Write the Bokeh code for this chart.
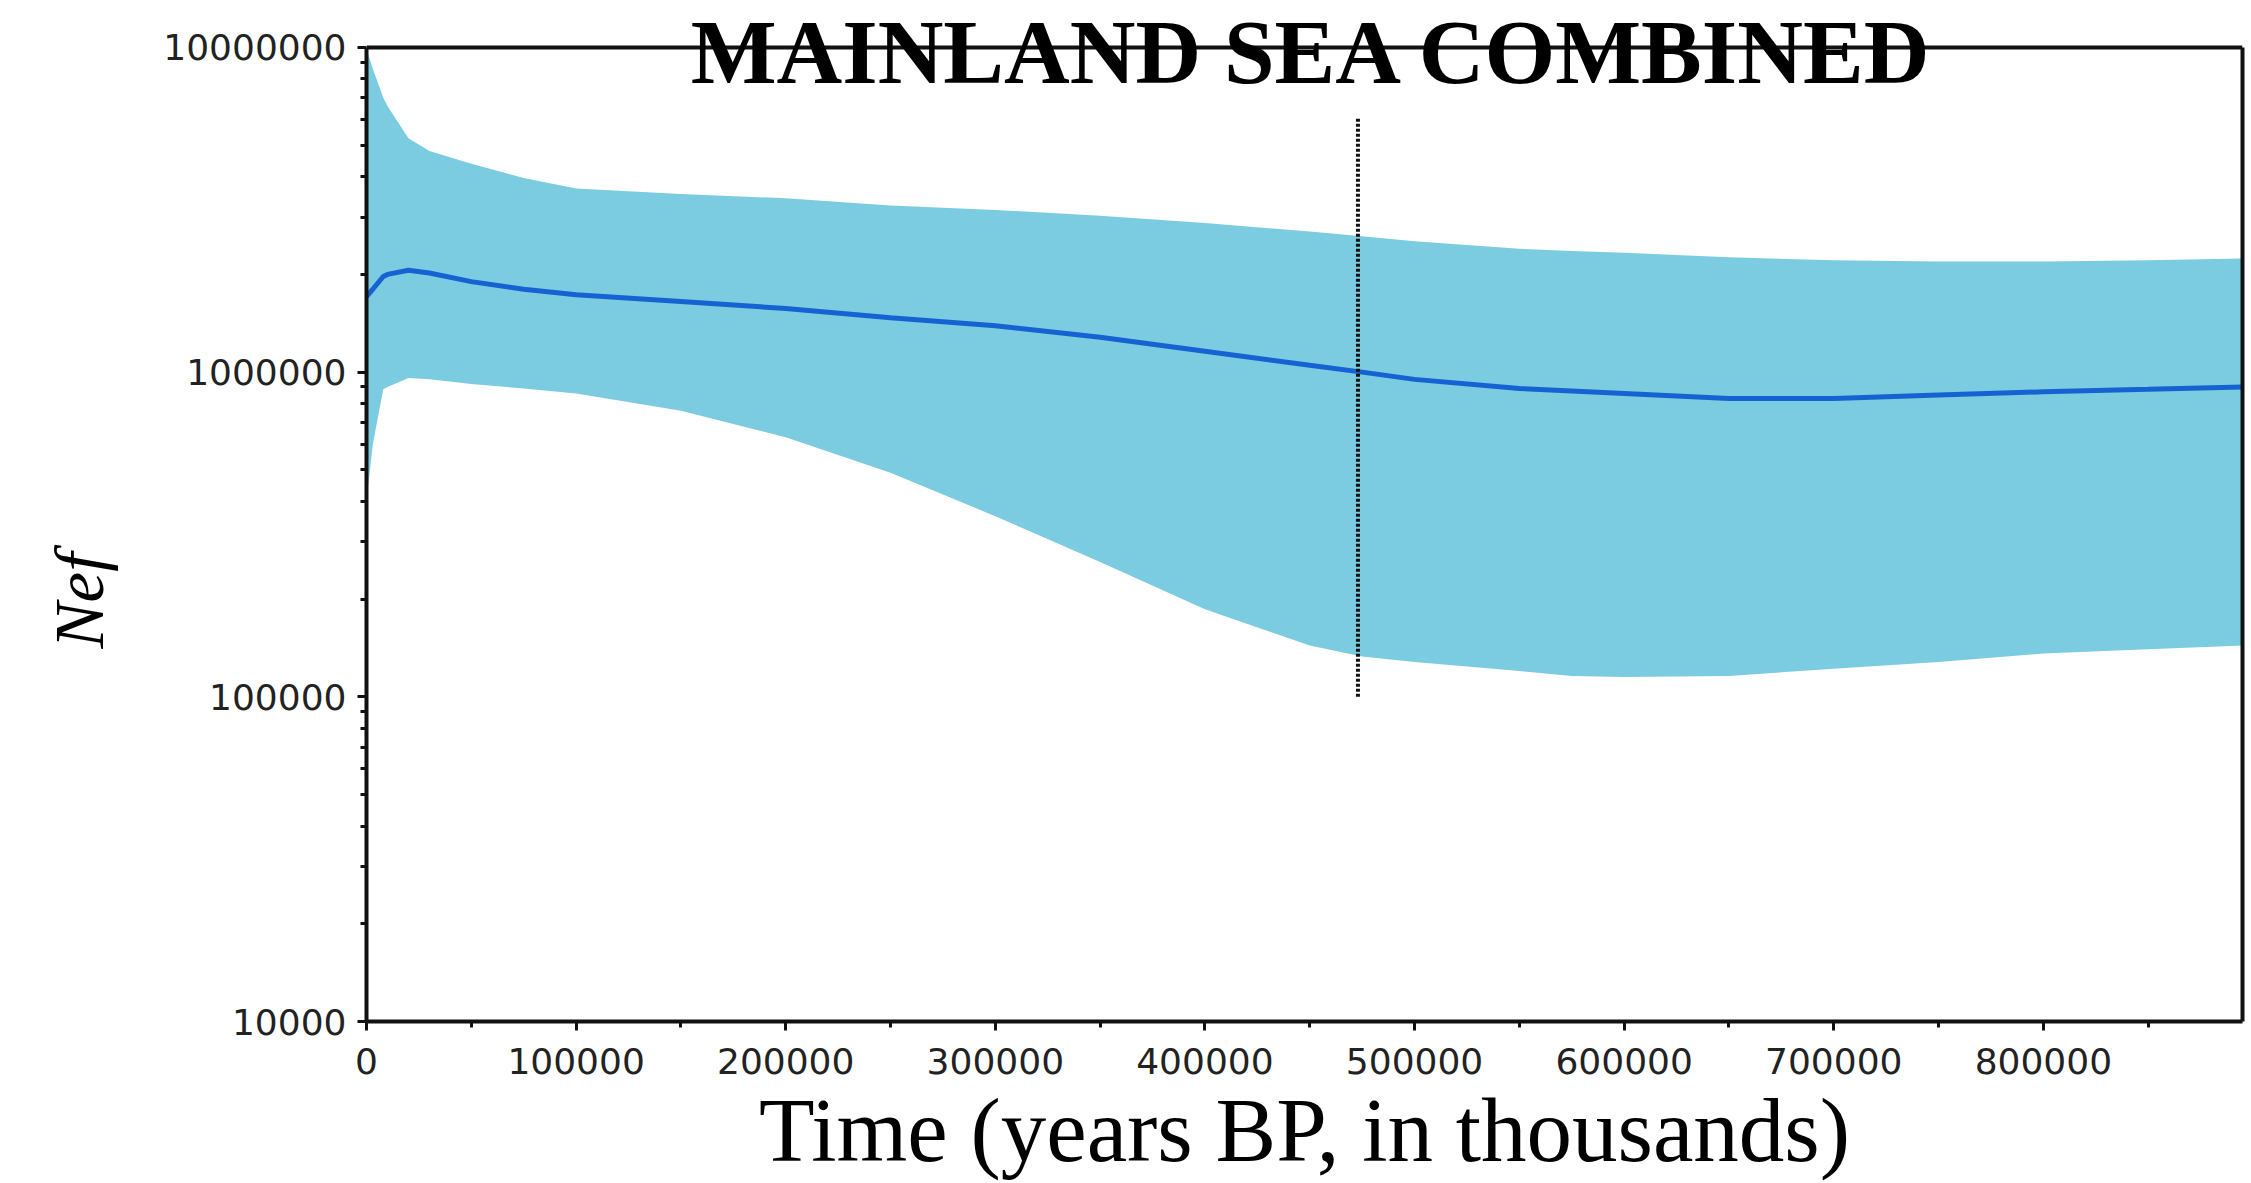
import math
from bokeh.plotting import figure
from bokeh.models import Label, Range1d, FixedTicker, PrintfTickFormatter, Span, LogAxis, Title
from bokeh.embed import file_html
from bokeh.resources import INLINE

# ---- data ----
time_bp = [0, 3000, 8000, 10000, 20000, 30000, 50000, 75000, 100000, 150000,
           200000, 250000, 300000, 350000, 400000, 450000, 475000, 500000,
           550000, 575000, 600000, 650000, 700000, 750000, 800000, 850000, 895000]
nef_median = [1.71e6, 1.80e6, 1.97e6, 2.00e6, 2.06e6, 2.02e6, 1.90e6, 1.80e6, 1.73e6, 1.65e6,
              1.57e6, 1.47e6, 1.39e6, 1.28e6, 1.16e6, 1.05e6, 1.00e6, 0.95e6,
              0.89e6, 0.875e6, 0.86e6, 0.83e6, 0.83e6, 0.85e6, 0.87e6, 0.885e6, 0.90e6]
nef_upper = [9.9e6, 8.6e6, 7.0e6, 6.6e6, 5.25e6, 4.8e6, 4.38e6, 3.96e6, 3.68e6, 3.54e6,
             3.43e6, 3.26e6, 3.16e6, 3.03e6, 2.88e6, 2.71e6, 2.62e6, 2.53e6,
             2.40e6, 2.36e6, 2.33e6, 2.26e6, 2.21e6, 2.19e6, 2.19e6, 2.21e6, 2.24e6]
nef_lower = [4.0e5, 6.0e5, 8.85e5, 9.0e5, 9.6e5, 9.5e5, 9.2e5, 8.9e5, 8.6e5, 7.6e5,
             6.3e5, 4.9e5, 3.6e5, 2.6e5, 1.86e5, 1.44e5, 1.33e5, 1.28e5,
             1.2e5, 1.16e5, 1.15e5, 1.16e5, 1.22e5, 1.28e5, 1.36e5, 1.40e5, 1.44e5]

marker_time = 473000
marker_span = [1.0e5, 6.07e6]

x_ticks = [0, 100000, 200000, 300000, 400000, 500000, 600000, 700000, 800000]
y_ticks = [1e4, 1e5, 1e6, 1e7]
x_limits = [0, 895000]

title_text = "MAINLAND SEA COMBINED"
x_label = "Time (years BP, in thousands)"
y_label = "Nef"

# ---- layout (pixels) ----
W, H = 2251, 1183
B_LEFT, B_RIGHT, B_TOP, B_BOTTOM = 365, 9, 47, 161
frame_w = W - B_LEFT - B_RIGHT
axis_h = H - B_TOP - B_BOTTOM          # height of the 1e4..1e7 axis
decades = math.log10(y_ticks[-1]) - math.log10(y_ticks[0])
px_per_decade = axis_h / decades
x_per_px = (x_limits[1] - x_limits[0]) / frame_w


def y_at(px_below_top):
    return y_ticks[-1] * 10 ** (-px_below_top / px_per_decade)


# the frame runs up to the top of the page so that the title can overlap the top border
p = figure(width=W, height=H, y_axis_type="log",
           x_range=Range1d(*x_limits), y_range=Range1d(y_ticks[0], y_at(-B_TOP)),
           output_backend="svg", toolbar_location=None,
           min_border_left=B_LEFT, min_border_right=B_RIGHT,
           min_border_top=0, min_border_bottom=B_BOTTOM)
p.background_fill_color = "white"
p.border_fill_color = "white"
p.grid.visible = False
p.outline_line_color = None

p.varea(x=time_bp, y1=nef_lower, y2=nef_upper, fill_color="#7BCCE0", fill_alpha=1)
p.line(x=time_bp, y=nef_median, line_color="#1762D2", line_width=5)
p.segment(x0=[marker_time], y0=[marker_span[0]], x1=[marker_time], y1=[marker_span[1]],
          line_color="#111111", line_width=4, line_dash="3 2")

# axes
minor_x = [t + 50000 for t in x_ticks]
p.xaxis.ticker = FixedTicker(ticks=x_ticks, minor_ticks=minor_x)
minor_y = [m * t for t in y_ticks[:-1] for m in range(2, 10)]
p.yaxis.ticker = FixedTicker(ticks=y_ticks, minor_ticks=minor_y)
p.yaxis.bounds = (y_ticks[0], y_ticks[-1])
p.xaxis.formatter = PrintfTickFormatter(format="%d")
p.yaxis.formatter = PrintfTickFormatter(format="%d")

for ax in (p.xaxis, p.yaxis):
    ax.axis_line_color = "#111111"
    ax.axis_line_width = 4
    ax.major_tick_line_color = "#111111"
    ax.major_tick_line_width = 3
    ax.minor_tick_line_color = "#111111"
    ax.minor_tick_line_width = 3
    ax.major_tick_in = 0
    ax.major_tick_out = 9
    ax.minor_tick_in = 0
    ax.minor_tick_out = 6
    ax.major_label_text_font = "DejaVu Sans"
    ax.major_label_text_font_size = "36px"
    ax.major_label_text_color = "#222222"

p.xaxis.major_label_standoff = 17
p.yaxis.major_label_standoff = 11

p.xaxis.axis_label = x_label
p.xaxis.axis_label_text_font = "Liberation Serif"
p.xaxis.axis_label_text_font_style = "normal"
p.xaxis.axis_label_text_font_size = "91px"
p.xaxis.axis_label_text_color = "#000000"
p.xaxis.axis_label_standoff = 3

# right border: an axis without ticks
right_axis = LogAxis(bounds=(y_ticks[0], y_ticks[-1]), ticker=FixedTicker(ticks=[]),
                     axis_line_color="#111111", axis_line_width=4,
                     major_tick_out=0, minor_tick_out=0, major_label_text_font_size="0px")
p.add_layout(right_axis, "right")

# top border
p.add_layout(Span(location=y_ticks[-1], dimension="width", line_color="#111111", line_width=4))

# y label as a side title
p.add_layout(Title(text=y_label, align="left", vertical_align="top", offset=373, standoff=82,
                   text_font="Liberation Serif", text_font_style="italic",
                   text_font_size="69px", text_color="#000000"), "left")

# chart title overlapping the top border
p.add_layout(Label(x=(x_limits[0] + x_limits[1]) / 2 + 8 * x_per_px, y=y_at(5), text=title_text,
                   text_align="center", text_baseline="alphabetic",
                   text_font="Liberation Serif", text_font_style="bold",
                   text_font_size="91px", text_color="#000000"))

open("out.html", "w").write(file_html(p, INLINE))
